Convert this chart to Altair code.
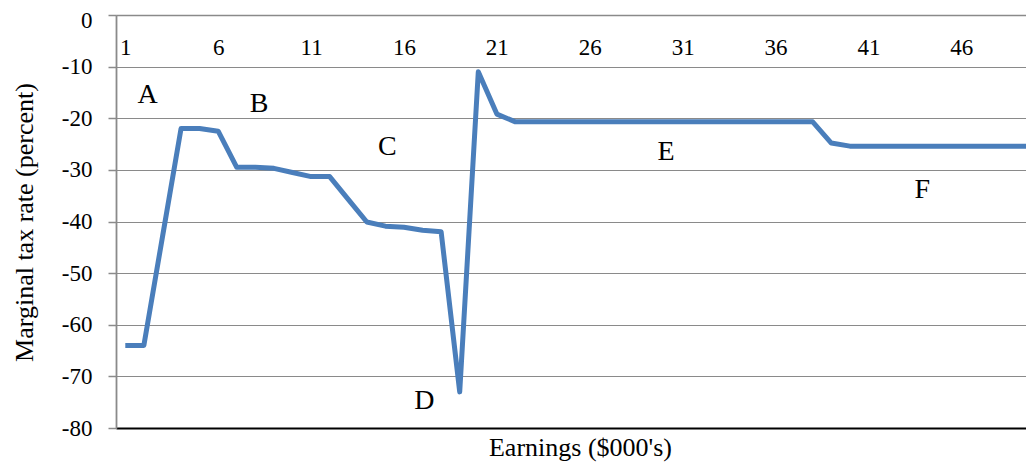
import altair as alt
import pandas as pd

# Earnings category (in $000's) and marginal tax rate (percent)
earnings = list(range(1, 51))
rates = [
    -64, -64, -43, -22, -22, -22.5, -29.5, -29.5, -29.7, -30.5,
    -31.3, -31.3, -35.7, -40.1, -40.9, -41.1, -41.7, -42, -73, -11,
    -19.2, -20.7, -20.7, -20.7, -20.7, -20.7, -20.7, -20.7, -20.7, -20.7,
    -20.7, -20.7, -20.7, -20.7, -20.7, -20.7, -20.7, -20.7, -24.8, -25.4,
    -25.4, -25.4, -25.4, -25.4, -25.4, -25.4, -25.4, -25.4, -25.4, -25.4,
]

# Region annotation letters and where they sit (data units)
letters = ["A", "B", "C", "D", "E", "F"]
letter_x = [2.2, 8.2, 15.1, 17.1, 30.1, 43.9]
letter_y = [-15.5, -17.2, -25.5, -74.7, -26.5, -33.9]

x_tick_values = [1, 6, 11, 16, 21, 26, 31, 36, 41, 46]
y_tick_values = [0, -10, -20, -30, -40, -50, -60, -70, -80]

df = pd.DataFrame({"earn": earnings, "rate": rates})
df_txt = pd.DataFrame({"label": letters, "x": letter_x, "y": letter_y})

FONT = "Liberation Serif"
GRID = "#8a8a8a"
W, H = 910, 413

x_scale = alt.Scale(domain=[0.5, 49.48], nice=False, zero=False)
y_scale = alt.Scale(domain=[-80, 0], nice=False)

x_axis = alt.Axis(
    orient="bottom",
    offset=-H,
    values=x_tick_values,
    ticks=False,
    grid=False,
    domainColor=GRID,
    domainWidth=1.5,
    labelFont=FONT,
    labelFontSize=23,
    labelColor="black",
    labelPadding=21,
    labelBaseline="top",
    title="Earnings ($000's)",
    titleFont=FONT,
    titleFontSize=26,
    titleFontWeight="normal",
    titleColor="black",
    titleX=464,
    titleY=440,
    titleAlign="center",
    titleBaseline="alphabetic",
)

y_axis = alt.Axis(
    values=y_tick_values,
    labelExpr="'' + datum.value",
    labelOffset=alt.condition("datum.value === 0", alt.value(5), alt.value(0)),
    grid=True,
    gridColor=alt.condition("datum.value === -80", alt.value("#000000"), alt.value(GRID)),
    gridWidth=alt.condition("datum.value === -80", alt.value(1.8), alt.value(1.2)),
    domainColor=GRID,
    domainWidth=1.8,
    tickColor=GRID,
    tickSize=8,
    tickWidth=1.5,
    labelFont=FONT,
    labelFontSize=23,
    labelColor="black",
    labelPadding=16,
    title="Marginal tax rate (percent)",
    titleFont=FONT,
    titleFontSize=26,
    titleFontWeight="normal",
    titleColor="black",
    titleAngle=270,
    titleX=-92,
    titleY=207,
    titleAlign="center",
    titleBaseline="middle",
)

line = alt.Chart(df).mark_line(color="#4a7ebb", strokeWidth=5, clip=True, strokeJoin="round").encode(
    x=alt.X("earn:Q", scale=x_scale, axis=x_axis),
    y=alt.Y("rate:Q", scale=y_scale, axis=y_axis),
)

text = alt.Chart(df_txt).mark_text(font=FONT, fontSize=28, color="black", align="center", baseline="middle").encode(
    x=alt.X("x:Q", scale=x_scale),
    y=alt.Y("y:Q", scale=y_scale),
    text="label:N",
)

chart = (
    alt.layer(line, text)
    .properties(
        width=W,
        height=H,
        autosize=alt.AutoSizeParams(type="none"),
        padding={"left": 108, "top": 7, "right": 0, "bottom": 36},
        background="white",
    )
    .configure_view(stroke="transparent")
)

chart.save("out.html", embed_options={"renderer": "svg", "actions": False})
